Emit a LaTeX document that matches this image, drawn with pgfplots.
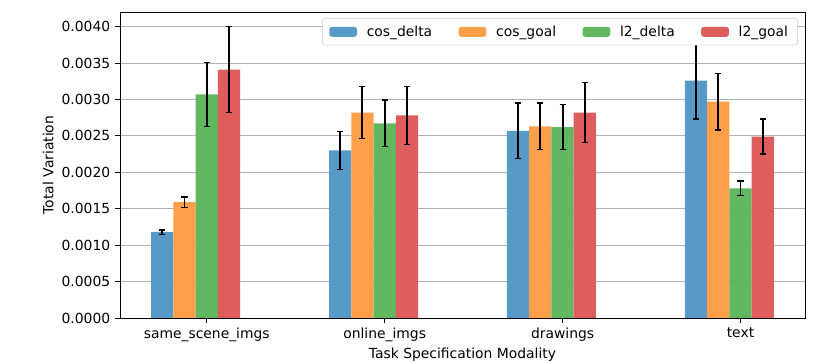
\documentclass[border=0pt]{standalone}
\usepackage{fontspec}
\setmainfont{DejaVu Sans}
\usepackage{pgfplots}
\pgfplotsset{compat=1.18}

\definecolor{cdelta}{RGB}{87,153,199}
\definecolor{cgoal}{RGB}{255,159,74}
\definecolor{ldelta}{RGB}{97,184,97}
\definecolor{lgoal}{RGB}{224,93,94}

\begin{document}
\begin{tikzpicture}
\useasboundingbox (-86.4pt,-31.7pt) rectangle (506.9pt,228.96pt);
\begin{axis}[
  scale only axis,
  width=493.2pt, height=220.3pt,
  ybar, bar width=0.125, bar shift=0pt,
  xmin=-0.4875, xmax=3.3625,
  ymin=0, ymax=0.0042,
  xtick={0,1,2,3},
  xticklabels={same\_scene\_imgs,online\_imgs,drawings,text},
  ytick={0,0.0005,0.001,0.0015,0.002,0.0025,0.003,0.0035,0.004},
  scaled y ticks=false,
  yticklabel style={/pgf/number format/.cd,fixed,fixed zerofill,precision=4,assume math mode=true},
  tick align=outside, major tick length=3.5pt,
  tick style={black, line width=0.6pt},
  xtick pos=bottom, ytick pos=left,
  ymajorgrids, grid style={color=black!31, line width=0.6pt},
  axis line style={line width=0.6pt},
  font=\fontsize{10pt}{12pt}\selectfont,
  xlabel={Task Specification Modality},
  ylabel={Total Variation},
  xlabel style={yshift=2pt},
  ylabel style={yshift=-1pt},
  legend columns=4,
  legend style={at={(1,1)}, anchor=north east, xshift=-5pt, yshift=-4.5pt,
    draw=black!20, rounded corners=2pt, fill=white,
    /tikz/every odd column/.append style={column sep=5pt},
    /tikz/every even column/.append style={column sep=17pt},
    inner xsep=5pt, inner ysep=3pt},
  legend image code/.code={\fill[#1,draw=none] (0pt,-3.6pt) rectangle (20pt,3.6pt);},
  error bars/y dir=both, error bars/y explicit,
  error bars/error bar style={black, line width=1.4pt},
  error bars/error mark options={black, line width=1pt, mark size=2.2pt, rotate=90},
]
\addplot[fill=cdelta, draw=none] coordinates {
  (-0.25,0.00118) +- (0,0.00003)
  (0.75,0.00230) +- (0,0.00026)
  (1.75,0.00257) +- (0,0.00038)
  (2.75,0.00326) +- (0,0.00053)};
\addlegendentry{cos\_delta}
\addplot[fill=cgoal, draw=none] coordinates {
  (-0.125,0.00159) +- (0,0.00007)
  (0.875,0.00282) +- (0,0.00036)
  (1.875,0.00263) +- (0,0.00032)
  (2.875,0.00297) +- (0,0.00039)};
\addlegendentry{cos\_goal}
\addplot[fill=ldelta, draw=none] coordinates {
  (0,0.00307) +- (0,0.00044)
  (1,0.00267) +- (0,0.00032)
  (2,0.00262) +- (0,0.00031)
  (3,0.00178) +- (0,0.00010)};
\addlegendentry{l2\_delta}
\addplot[fill=lgoal, draw=none] coordinates {
  (0.125,0.00341) +- (0,0.00059)
  (1.125,0.00278) +- (0,0.00040)
  (2.125,0.00282) +- (0,0.00041)
  (3.125,0.00249) +- (0,0.00024)};
\addlegendentry{l2\_goal}
\end{axis}
\end{tikzpicture}
\end{document}
